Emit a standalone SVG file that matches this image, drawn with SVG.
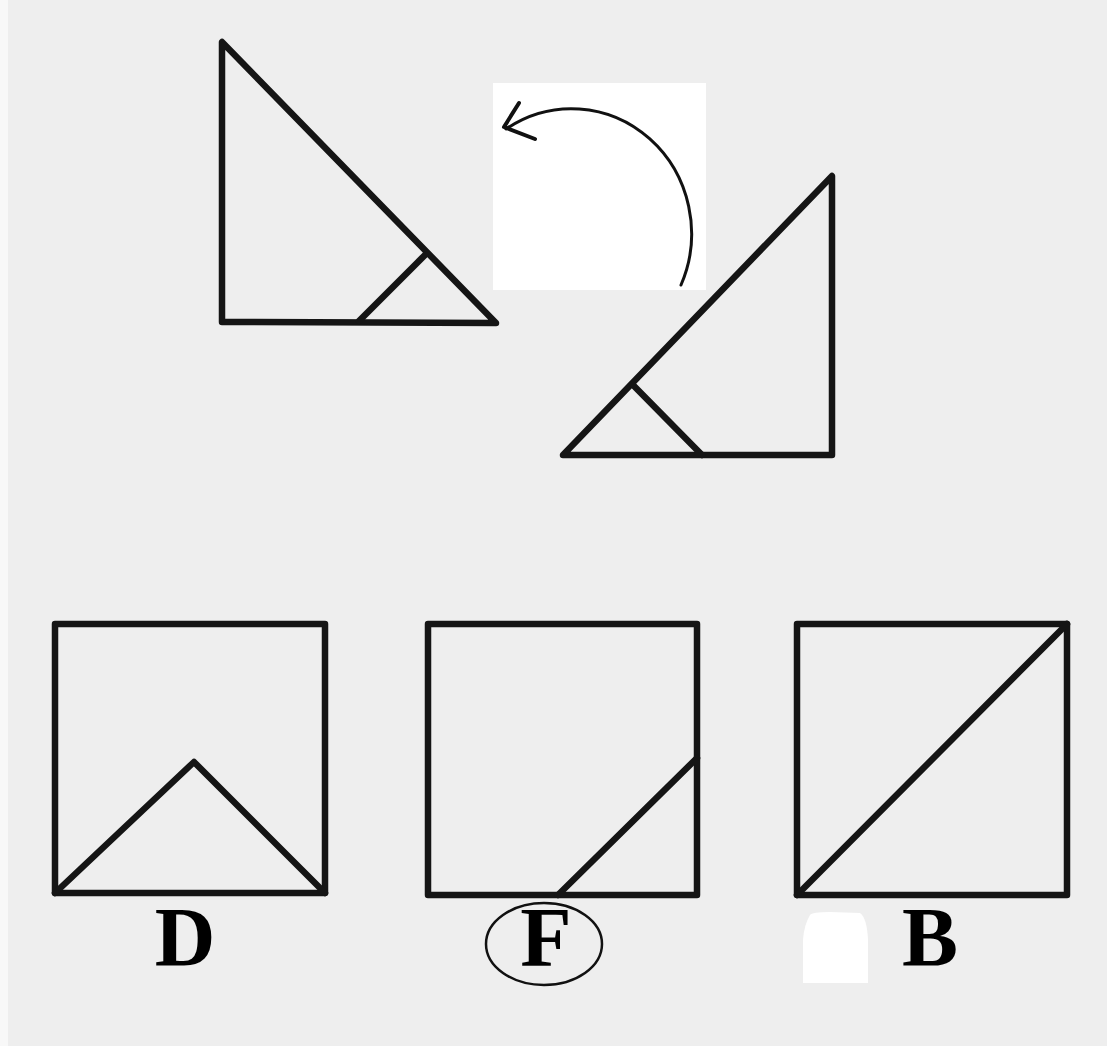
<svg xmlns="http://www.w3.org/2000/svg" width="1107" height="1046" viewBox="0 0 1107 1046">
<style>
.shape{fill:none;stroke:#151515;stroke-width:6.5;stroke-linejoin:round;stroke-linecap:round}
.thin{fill:none;stroke:#111;stroke-width:3;stroke-linecap:round;stroke-linejoin:round}
.head{fill:none;stroke:#111;stroke-width:4;stroke-linecap:round;stroke-linejoin:round}
.lbl{font-family:"Liberation Serif","Times New Roman",serif;font-weight:bold;font-size:84px;fill:#000;text-anchor:middle}
</style>
<rect x="0" y="0" width="1107" height="1046" fill="#eeeeee"/>
<rect x="0" y="0" width="8" height="1046" fill="#f8f8f8"/>
<rect x="493" y="83" width="213" height="207" fill="#ffffff"/>
<path d="M810,915 Q812,912 830,912 L860,913 Q867,918 868,940 L868,983 L803,983 L803,940 Q804,925 810,915 Z" fill="#ffffff"/>

<g id="triangle-top-left">
  <path class="shape" d="M222,42 L222,322 L496,323 Z"/>
  <path class="shape" d="M359,321 L425,255"/>
</g>
<g id="triangle-right">
  <path class="shape" d="M832,176 L832,455 L563,455 Z"/>
  <path class="shape" d="M633,385 L702,455"/>
</g>
<g id="connectors">
  <path class="thin" d="M681,285 A120,125 0 0 0 506,129"/>
  <path class="head" d="M519,103 L504,127 L535,139"/>
</g>
<g id="option-D">
  <rect class="shape" x="55" y="624" width="270" height="269"/>
  <path class="shape" d="M55,893 L194,762 L325,893"/>
  <text class="lbl" x="185" y="966">D</text>
</g>
<g id="option-F">
  <rect class="shape" x="428" y="624" width="269" height="271"/>
  <path class="shape" d="M558,895 L697,758"/>
  <ellipse cx="544" cy="944" rx="58" ry="41" fill="none" stroke="#111" stroke-width="2.5"/>
  <text class="lbl" x="546" y="966">F</text>
</g>
<g id="option-B">
  <rect class="shape" x="797" y="624" width="270" height="271"/>
  <path class="shape" d="M797,895 L1067,624"/>
  <text class="lbl" x="930" y="966">B</text>
</g>
</svg>
